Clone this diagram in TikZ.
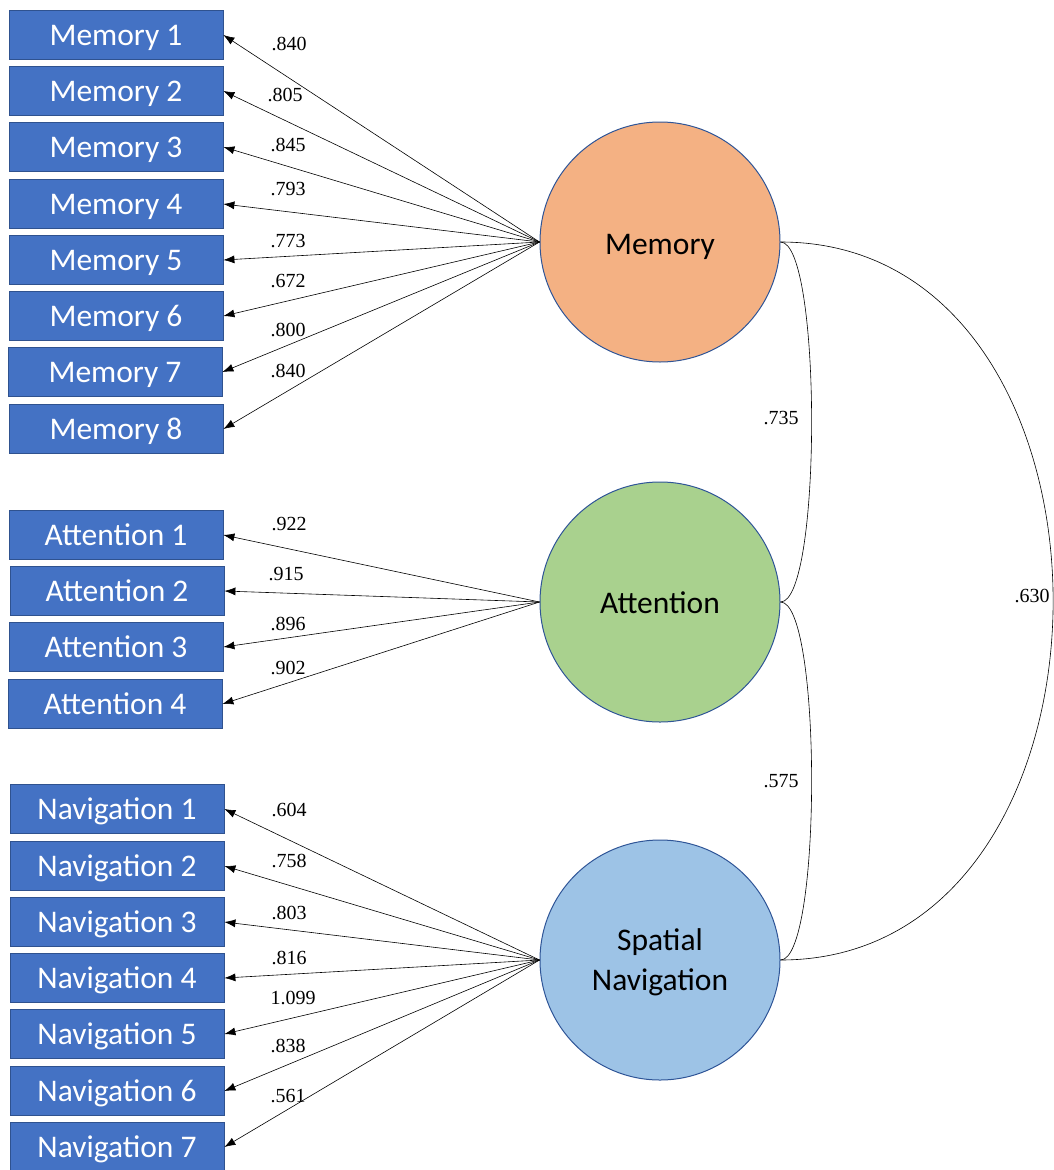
\documentclass[tikz,border=0pt]{standalone}
\usepackage{fontspec}
\setmainfont{Liberation Serif}
\newfontfamily\boxfont{Carlito}
\usetikzlibrary{arrows.meta}
\definecolor{boxblue}{HTML}{4472C4}
\definecolor{boxedge}{HTML}{2F528F}
\definecolor{memfill}{HTML}{F4B183}
\definecolor{attfill}{HTML}{A9D18E}
\definecolor{navfill}{HTML}{9DC3E6}
\definecolor{circedge}{HTML}{2F5597}
\begin{document}
\begin{tikzpicture}[x=1pt,y=-1pt,
 ind/.style={draw=boxedge, line width=0.8pt, fill=boxblue, minimum width=214pt, minimum height=49pt, inner sep=0pt, text height=20pt, text depth=0pt, text=white, font=\boxfont\fontsize{31.5}{36}\selectfont},
 lat/.style={circle, draw=circedge, line width=1pt, minimum size=240pt, inner sep=0pt},
 lattxt/.style={inner sep=0pt, align=center, font=\boxfont\fontsize{31.5}{40}\selectfont},
 arr/.style={-{Latex[length=11pt,width=8pt]}, line width=0.6pt},
 corr/.style={line width=0.6pt},
 lbl/.style={font=\fontsize{20}{22}\selectfont, inner sep=0pt}]
\useasboundingbox (0,0) rectangle (1054,1170);

% latent variables
\node[lat, fill=memfill] (mem) at (660,242) {};
\node[lat, fill=attfill] (att) at (660,602) {};
\node[lat, fill=navfill] (nav) at (660,960) {};
\node[lattxt, text height=20pt, text depth=0pt] (memt) at (660,244) {Memory};
\node[lattxt] (attt) at (660,603) {Attention};
\node[lattxt] (navt) at (660,962) {Spatial\\Navigation};

% memory indicators
\node[ind] (m1) at (116,35) {Memory 1};
\node[ind] (m2) at (116,91) {Memory 2};
\node[ind] (m3) at (116,147) {Memory 3};
\node[ind] (m4) at (116,204) {Memory 4};
\node[ind] (m5) at (116,260) {Memory 5};
\node[ind] (m6) at (116,316) {Memory 6};
\node[ind] (m7) at (115,372) {Memory 7};
\node[ind] (m8) at (116,429) {Memory 8};

% attention indicators
\node[ind] (a1) at (116,535) {Attention 1};
\node[ind] (a2) at (117,591) {Attention 2};
\node[ind] (a3) at (116,647) {Attention 3};
\node[ind] (a4) at (115,704) {Attention 4};

% navigation indicators
\node[ind] (n1) at (117,809) {Navigation 1};
\node[ind] (n2) at (117,866) {Navigation 2};
\node[ind] (n3) at (117,922) {Navigation 3};
\node[ind] (n4) at (117,978) {Navigation 4};
\node[ind] (n5) at (117,1034) {Navigation 5};
\node[ind] (n6) at (117,1091) {Navigation 6};
\node[ind] (n7) at (117,1147) {Navigation 7};

% loadings
\foreach \i in {1,...,8} {\draw[arr] (mem.west) -- (m\i.east);}
\foreach \i in {1,...,4} {\draw[arr] (att.west) -- (a\i.east);}
\foreach \i in {1,...,7} {\draw[arr] (nav.west) -- (n\i.east);}

% loading labels
\node[lbl] (lm1) at (289,44) {.840};
\node[lbl] (lm2) at (285,95) {.805};
\node[lbl] (lm3) at (288,145) {.845};
\node[lbl] (lm4) at (288,189) {.793};
\node[lbl] (lm5) at (288,241) {.773};
\node[lbl] (lm6) at (288,281) {.672};
\node[lbl] (lm7) at (288,330) {.800};
\node[lbl] (lm8) at (288,371) {.840};

\node[lbl] (la1) at (289,524) {.922};
\node[lbl] (la2) at (286,574) {.915};
\node[lbl] (la3) at (288,624) {.896};
\node[lbl] (la4) at (288,668) {.902};

\node[lbl] (ln1) at (289,810) {.604};
\node[lbl] (ln2) at (289,861) {.758};
\node[lbl] (ln3) at (289,913) {.803};
\node[lbl] (ln4) at (289,958) {.816};
\node[lbl] (ln5) at (293,998) {1.099};
\node[lbl] (ln6) at (288,1046) {.838};
\node[lbl] (ln7) at (288,1096) {.561};

% correlations
\draw[corr] (mem.east) .. controls (822,242) and (822,602) .. (att.east);
\draw[corr] (att.east) .. controls (822,602) and (822,960) .. (nav.east);
\draw[corr] (mem.east) .. controls (1144,242) and (1144,960) .. (nav.east);

\node[lbl] (cma) at (781,418) {.735};
\node[lbl] (can) at (781,781) {.575};
\node[lbl] (cmn) at (1032,596) {.630};
\end{tikzpicture}
\end{document}
